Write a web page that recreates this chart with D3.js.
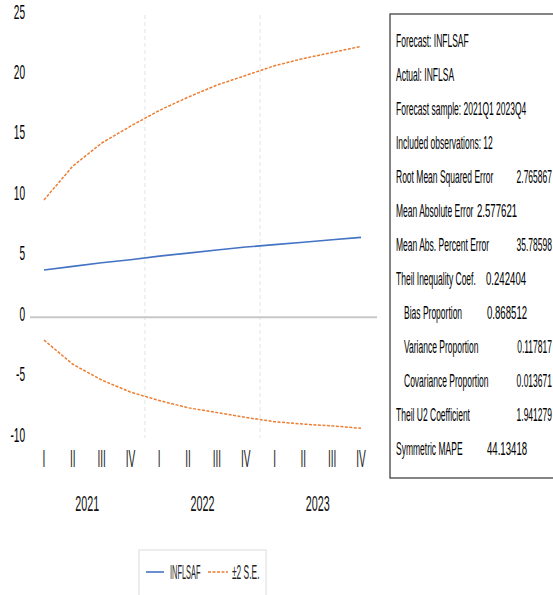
<!DOCTYPE html>
<html><head><meta charset="utf-8">
<script src="https://cdn.jsdelivr.net/npm/d3@7"></script>
<style>html,body{margin:0;padding:0;background:#fff;}svg{display:block;}</style>
</head><body>
<script>
// ---------- DATA ----------
const quarters = ["I","II","III","IV","I","II","III","IV","I","II","III","IV"];
const years = ["2021","2022","2023"];
const forecast = [3.9, 4.2, 4.5, 4.75, 5.05, 5.3, 5.55, 5.8, 6.0, 6.2, 6.4, 6.6];
const upperSE = [9.7, 12.5, 14.4, 15.8, 17.1, 18.2, 19.2, 20.0, 20.8, 21.4, 21.9, 22.4];
const lowerSE = [-1.9, -3.9, -5.2, -6.2, -6.9, -7.5, -7.9, -8.3, -8.65, -8.85, -9.0, -9.2];
const yTicks = [25, 20, 15, 10, 5, 0, -5, -10];
const statLabels = ["Forecast: INFLSAF","Actual: INFLSA","Forecast sample: 2021Q1 2023Q4","Included observations: 12",
  "Root Mean Squared Error","Mean Absolute Error","Mean Abs. Percent Error","Theil Inequality Coef.",
  "Bias Proportion","Variance Proportion","Covariance Proportion","Theil U2 Coefficient","Symmetric MAPE"];
const statValues = ["","","","","2.765867","2.577621","35.78598","0.242404","0.868512","0.117817","0.013671","1.941279","44.13418"];
const legendLabels = ["INFLSAF","\u00b12 S.E."];

// ---------- LAYOUT ----------
const W = 553, H = 595;
const svg = d3.select("body").append("svg").attr("width", W).attr("height", H);
const FONT = "'Liberation Sans', Arial, sans-serif";

function txt(parent, x, y, s, size, sx, anchor, color) {
  const g = parent.append("g").attr("transform", `translate(${x},${y}) scale(${sx},1)`);
  g.append("text").attr("x", 0).attr("y", 0).attr("font-family", FONT).attr("font-size", size)
    .attr("text-anchor", anchor || "start").attr("fill", color || "#000").text(s);
  return g;
}

const idx = d3.range(quarters.length);
const x = d3.scaleLinear().domain([0, quarters.length - 1]).range([44, 361]);
const y = d3.scaleLinear().domain([-10, 25]).range([438, 15]);

// year separators
[3.5, 7.5].forEach(v => {
  svg.append("line").attr("x1", x(v)).attr("x2", x(v)).attr("y1", y(25)).attr("y2", y(-10))
    .attr("stroke", "#e4e4e4").attr("stroke-width", 1).attr("stroke-dasharray", "4,3");
});

// zero line
svg.append("line").attr("x1", 30).attr("x2", 377).attr("y1", y(0)).attr("y2", y(0))
  .attr("stroke", "#c8c8c8").attr("stroke-width", 2);

// y labels
yTicks.forEach(t => txt(svg, 25, Math.max(y(t) + 3.5, 19), String(t), 21, 0.48, "end"));

// quarter labels
idx.forEach(i => txt(svg, x(i), 467, quarters[i], 23, 0.44, "middle", "#222"));
// year labels
years.forEach((yr, k) => txt(svg, (x(k * 4) + x(k * 4 + 3)) / 2, 511, yr, 22, 0.49, "middle", "#111"));

// lines
const line = d3.line().x((d, i) => x(i)).y(d => y(d));
svg.append("path").datum(upperSE).attr("d", line).attr("fill", "none")
  .attr("stroke", "#ed7d31").attr("stroke-width", 1.5).attr("stroke-dasharray", "3,1.5");
svg.append("path").datum(lowerSE).attr("d", line).attr("fill", "none")
  .attr("stroke", "#ed7d31").attr("stroke-width", 1.5).attr("stroke-dasharray", "3,1.5");
svg.append("path").datum(forecast).attr("d", line).attr("fill", "none")
  .attr("stroke", "#4472c4").attr("stroke-width", 1.6);

// stats box
svg.append("rect").attr("x", 390).attr("y", 14).attr("width", 180).attr("height", 464)
  .attr("fill", "#fff").attr("stroke", "#333").attr("stroke-width", 1.2);
const valueX = [0, 0, 0, 0, 552, 477, 552, 486, 487, 552, 552, 552, 487];
const valueEnd = [0, 0, 0, 0, 1, 0, 1, 0, 0, 1, 1, 1, 0];
const indent = [0, 0, 0, 0, 0, 0, 0, 0, 1, 1, 1, 0, 0];
statLabels.forEach((s, i) => {
  const by = 47 + 34 * i;
  txt(svg, indent[i] ? 404 : 396, by, s, 18.5, 0.46, "start");
  if (statValues[i]) txt(svg, valueX[i], by, statValues[i], 18.5, valueEnd[i] ? 0.46 : 0.52, valueEnd[i] ? "end" : "start");
});

// legend
svg.append("rect").attr("x", 139).attr("y", 550).attr("width", 127).attr("height", 60)
  .attr("fill", "#fff").attr("stroke", "#dcdcdc").attr("stroke-width", 1);
svg.append("line").attr("x1", 146).attr("x2", 164).attr("y1", 572).attr("y2", 572)
  .attr("stroke", "#4472c4").attr("stroke-width", 1.6);
txt(svg, 170, 579, legendLabels[0], 20, 0.37, "start", "#222");
svg.append("line").attr("x1", 208).attr("x2", 228).attr("y1", 572).attr("y2", 572)
  .attr("stroke", "#ed7d31").attr("stroke-width", 1.5).attr("stroke-dasharray", "3,1.5");
txt(svg, 232, 579, legendLabels[1], 20, 0.42, "start", "#222");
</script>
</body></html>
